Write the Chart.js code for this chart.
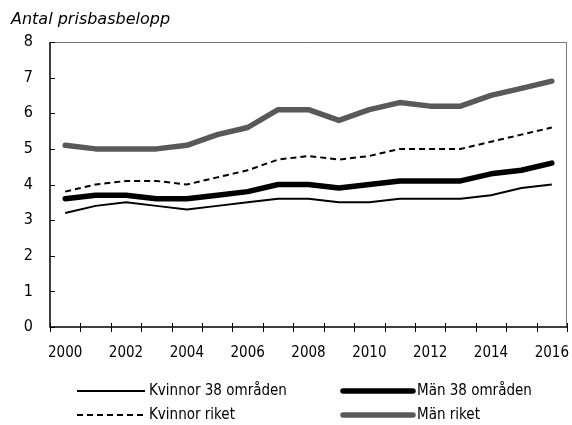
<!DOCTYPE html>
<html>
<head>
<meta charset="utf-8">
<script src="https://cdn.jsdelivr.net/npm/chart.js@4"></script>
<style>
  html, body { margin: 0; padding: 0; background: #fff; }
  #wrap { width: 572px; height: 425px; position: relative; }
</style>
</head>
<body>
<div id="wrap"><canvas id="chart" width="572" height="425"></canvas></div>
<script>
// Data
const years = ['2000', '2001', '2002', '2003', '2004', '2005', '2006', '2007', '2008',
               '2009', '2010', '2011', '2012', '2013', '2014', '2015', '2016'];
const kvinnor38 = [3.2, 3.4, 3.5, 3.4, 3.3, 3.4, 3.5, 3.6, 3.6, 3.5, 3.5, 3.6, 3.6, 3.6, 3.7, 3.9, 4.0];
const man38 = [3.6, 3.7, 3.7, 3.6, 3.6, 3.7, 3.8, 4.0, 4.0, 3.9, 4.0, 4.1, 4.1, 4.1, 4.3, 4.4, 4.6];
const kvinnorRiket = [3.8, 4.0, 4.1, 4.1, 4.0, 4.2, 4.4, 4.7, 4.8, 4.7, 4.8, 5.0, 5.0, 5.0, 5.2, 5.4, 5.6];
const manRiket = [5.1, 5.0, 5.0, 5.0, 5.1, 5.4, 5.6, 6.1, 6.1, 5.8, 6.1, 6.3, 6.2, 6.2, 6.5, 6.7, 6.9];
const yTicks = [0, 1, 2, 3, 4, 5, 6, 7, 8];
const yTitle = 'Antal prisbasbelopp';

const narrow = '"DejaVu Sans Condensed", "Liberation Sans Narrow", sans-serif';

// Title, frame, tick marks and legend are drawn by hand
const extras = {
    id: 'extras',
    afterDraw(chart) {
        const ctx = chart.ctx;
        const a = chart.chartArea;
        const y = chart.scales.y;
        ctx.save();

        // title above the y axis
        ctx.fillStyle = '#000';
        ctx.font = 'oblique 16px "DejaVu Sans", sans-serif';
        ctx.textBaseline = 'alphabetic';
        ctx.fillText(yTitle, 11, 24);

        // thin frame on top and right
        ctx.strokeStyle = '#777';
        ctx.lineWidth = 1;
        ctx.beginPath();
        ctx.moveTo(a.left, a.top + 0.5);
        ctx.lineTo(a.right - 0.5, a.top + 0.5);
        ctx.lineTo(a.right - 0.5, a.bottom);
        ctx.stroke();

        // axis lines
        ctx.strokeStyle = '#000';
        ctx.lineWidth = 1.5;
        ctx.beginPath();
        ctx.moveTo(a.left, a.top);
        ctx.lineTo(a.left, a.bottom);
        ctx.lineTo(a.right, a.bottom);
        ctx.stroke();

        // x tick marks on category boundaries
        ctx.lineWidth = 1;
        const step = (a.right - a.left) / years.length;
        ctx.beginPath();
        for (let i = 0; i <= years.length; i++) {
            const px = Math.round(a.left + i * step) + 0.5;
            ctx.moveTo(px, a.bottom - 4);
            ctx.lineTo(px, a.bottom + 5);
        }
        // y tick marks pointing inward
        yTicks.forEach(function(v) {
            const py = Math.round(y.getPixelForValue(v)) + 0.5;
            ctx.moveTo(a.left, py);
            ctx.lineTo(a.left + 5, py);
        });
        ctx.stroke();

        // legend in two columns
        const cols = [77, 343];
        const rows = [391, 415];
        const lens = [68, 70];
        chart.data.datasets.forEach(function(ds, i) {
            const cx = cols[i % 2];
            const cy = rows[Math.floor(i / 2)];
            const len = lens[i % 2];
            ctx.strokeStyle = ds.borderColor;
            ctx.lineWidth = ds.borderWidth;
            ctx.lineCap = ds.borderCapStyle || 'butt';
            ctx.setLineDash(ds.borderDash || []);
            ctx.beginPath();
            ctx.moveTo(cx, cy);
            ctx.lineTo(cx + len, cy);
            ctx.stroke();
            ctx.setLineDash([]);
            ctx.fillStyle = '#000';
            ctx.font = '15px ' + narrow;
            ctx.textBaseline = 'middle';
            ctx.fillText(ds.label, cx + len + 4, cy);
        });

        ctx.restore();
    }
};

const ctx = document.getElementById('chart').getContext('2d');
const chart = new Chart(ctx, {
    type: 'line',
    data: {
        labels: years,
        datasets: [
            {
                label: 'Kvinnor 38 områden',
                data: kvinnor38,
                borderColor: '#000',
                borderWidth: 2,
                pointRadius: 0,
                tension: 0
            },
            {
                label: 'Män 38 områden',
                data: man38,
                borderColor: '#000',
                borderWidth: 5.5,
                borderCapStyle: 'round',
                borderJoinStyle: 'round',
                pointRadius: 0,
                tension: 0
            },
            {
                label: 'Kvinnor riket',
                data: kvinnorRiket,
                borderColor: '#000',
                borderWidth: 2,
                borderDash: [6, 4],
                pointRadius: 0,
                tension: 0
            },
            {
                label: 'Män riket',
                data: manRiket,
                borderColor: '#595959',
                borderWidth: 5.5,
                borderCapStyle: 'round',
                borderJoinStyle: 'round',
                pointRadius: 0,
                tension: 0
            }
        ]
    },
    options: {
        responsive: false,
        animation: false,
        layout: {
            padding: { top: 42, right: 5, left: 0, bottom: 0 }
        },
        plugins: {
            legend: { display: false },
            tooltip: { enabled: false }
        },
        scales: {
            x: {
                offset: true,
                grid: { display: false, drawTicks: false },
                border: { display: false },
                afterFit: function(scale) {
                    scale.height = 98;
                    scale.paddingLeft = 0;
                    scale.paddingRight = 0;
                },
                ticks: {
                    autoSkip: false,
                    maxRotation: 0,
                    padding: 17,
                    color: '#000',
                    font: { family: narrow, size: 15 },
                    callback: function(v, i) { return i % 2 === 0 ? years[i] : ''; }
                }
            },
            y: {
                min: 0,
                max: 8,
                afterBuildTicks: function(scale) {
                    scale.ticks = yTicks.map(function(v) { return { value: v }; });
                },
                grid: { display: false, drawTicks: false },
                border: { display: false },
                afterFit: function(scale) {
                    scale.width = 50;
                    scale.paddingTop = 0;
                    scale.paddingBottom = 0;
                },
                ticks: {
                    padding: 17,
                    color: '#000',
                    font: { family: narrow, size: 16 }
                }
            }
        }
    },
    plugins: [extras]
});
</script>
</body>
</html>
